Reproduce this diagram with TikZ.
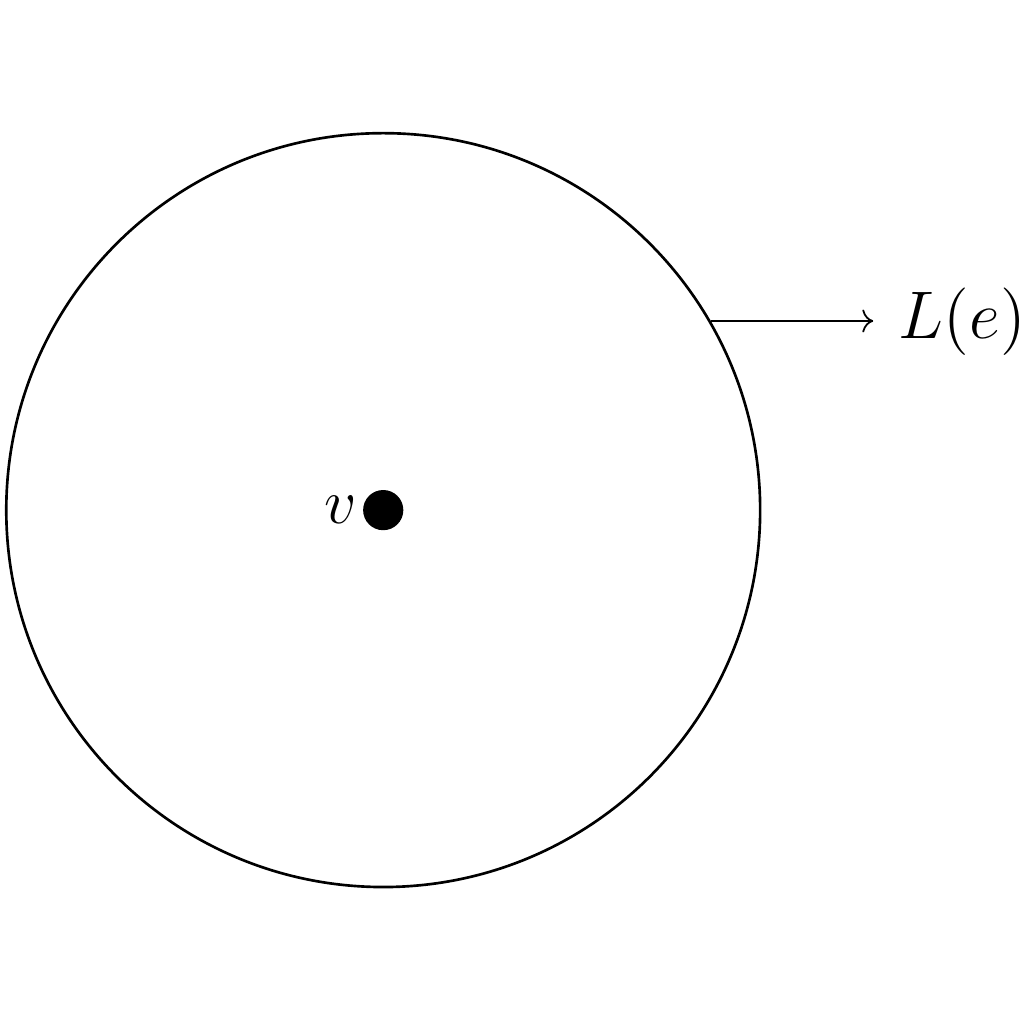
\documentclass[tikz,border=0pt]{standalone}
\usetikzlibrary{arrows.meta}

\begin{document}
\begin{tikzpicture}[>=To, font=\Large,
    ball/.style={draw, semithick, circle, minimum size=6cm, inner sep=0pt},
    vertex/.style={circle, fill, minimum size=0.32cm, inner sep=0pt}]

  % fix the page to the square of the reference
  \useasboundingbox (-3.05,-4.09) rectangle (5.10,4.06);

  % --- the ball round v ---
  \node[ball] (ball) at (0, 0) {};
  \node[vertex] (v) at (0, 0) {};
  \node[anchor=east, inner sep=1pt] (vlabel) at (v.west) {$v$};

  % --- the label L(e), pointed at from the rim at 30 deg ---
  \node[anchor=west, inner xsep=5.3pt, scale=1.06, transform shape]
    (le) at (3.9, 1.5) {$L(e)$};
  \draw[->] (ball.30) -- (ball.30 -| le.west);

\end{tikzpicture}
\end{document}
